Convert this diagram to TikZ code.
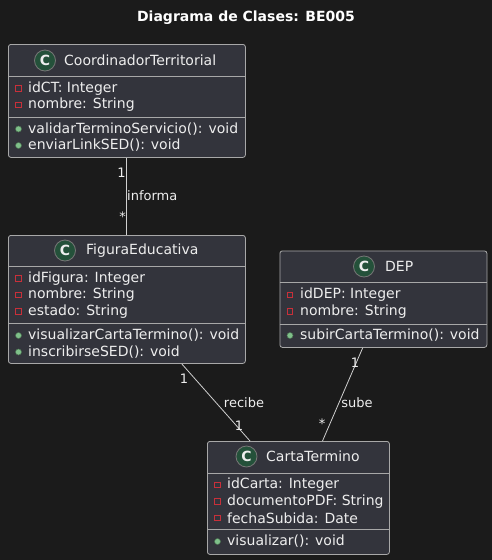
\documentclass[tikz,border=0pt]{standalone}
\usepackage{fontspec}
\setmainfont{DejaVu Sans}
\usetikzlibrary{calc}
\definecolor{bg}{HTML}{1B1B1B}
\definecolor{boxfill}{HTML}{33343C}
\definecolor{boxline}{HTML}{A8A8A8}
\definecolor{txt}{HTML}{EEEEEE}
\definecolor{cgreen}{HTML}{24513A}
\definecolor{privred}{HTML}{C8303A}
\definecolor{pubgreen}{HTML}{7FC08A}
\definecolor{linec}{HTML}{D0D0D0}
\tikzset{
  umlbox/.style={draw=boxline, fill=boxfill, rounded corners=2.5pt, line width=0.8pt, inner sep=0pt, anchor=north west},
  sepline/.style={draw=boxline, line width=0.8pt},
  circc/.style={circle, draw=boxline!70!black, fill=cgreen, line width=0.8pt, minimum size=21pt, inner sep=0pt, text=txt, font=\fontsize{14}{16}\selectfont\bfseries},
  clsname/.style={anchor=west, inner sep=0pt, text=txt, font=\fontsize{14}{16}\selectfont},
  member/.style={anchor=west, inner sep=0pt, text=txt, font=\fontsize{14}{16}\selectfont},
  privicon/.style={draw=privred, line width=0.9pt, minimum size=5.5pt, inner sep=0pt},
  pubicon/.style={circle, draw=pubgreen!60!black, fill=pubgreen, minimum size=6pt, inner sep=0pt, line width=0.5pt},
  assoc/.style={draw=linec, line width=0.8pt},
  mult/.style={text=txt, inner sep=0pt, font=\fontsize{13}{15}\selectfont},
  title/.style={text=white, inner sep=0pt, font=\fontsize{14}{16}\selectfont\bfseries}
}
\begin{document}
\begin{tikzpicture}[x=1pt,y=-1pt]
\fill[bg] (0,0) rectangle (492,560);
\useasboundingbox (0,0) rectangle (492,560);

\node[title] (ttl) at (246,18) {Diagrama de Clases: BE005};

% CoordinadorTerritorial
\node[umlbox, minimum width=237pt, minimum height=113pt] (ct) at (8,44) {};
\draw[sepline] (8,76) -- (245,76);
\draw[sepline] (8,117) -- (245,117);
\node[circc] (ctc) at (45,60.5) {C};
\node[clsname] (ctn) at (64,60.5) {CoordinadorTerritorial};
\node[privicon] (cti1) at (18.5,88.5) {};
\node[member] (cta1) at (28,88.5) {idCT: Integer};
\node[privicon] (cti2) at (18.5,105) {};
\node[member] (cta2) at (28,105) {nombre: String};
\node[pubicon] (ctm1i) at (18.5,129) {};
\node[member] (ctm1) at (28,129) {validarTerminoServicio(): void};
\node[pubicon] (ctm2i) at (18.5,145.5) {};
\node[member] (ctm2) at (28,145.5) {enviarLinkSED(): void};

% FiguraEducativa
\node[umlbox, minimum width=237pt, minimum height=128pt] (fe) at (8,235) {};
\draw[sepline] (8,266) -- (245,266);
\draw[sepline] (8,323) -- (245,323);
\node[circc] (fec) at (65,250.5) {C};
\node[clsname] (fen) at (86,250.5) {FiguraEducativa};
\node[privicon] (fei1) at (18.5,278.5) {};
\node[member] (fea1) at (28,278.5) {idFigura: Integer};
\node[privicon] (fei2) at (18.5,295) {};
\node[member] (fea2) at (28,295) {nombre: String};
\node[privicon] (fei3) at (18.5,311.5) {};
\node[member] (fea3) at (28,311.5) {estado: String};
\node[pubicon] (fem1i) at (18.5,335.5) {};
\node[member] (fem1) at (28,335.5) {visualizarCartaTermino(): void};
\node[pubicon] (fem2i) at (18.5,352) {};
\node[member] (fem2) at (28,352) {inscribirseSED(): void};

% DEP
\node[umlbox, minimum width=207pt, minimum height=96.5pt] (dep) at (279.5,250.5) {};
\draw[sepline] (279.5,282.5) -- (486.5,282.5);
\draw[sepline] (279.5,324) -- (486.5,324);
\node[circc] (depc) at (364,266.5) {C};
\node[clsname] (depn) at (385,266.5) {DEP};
\node[privicon] (depi1) at (290,295) {};
\node[member] (depa1) at (300,295) {idDEP: Integer};
\node[privicon] (depi2) at (290,311.5) {};
\node[member] (depa2) at (300,311.5) {nombre: String};
\node[pubicon] (depm1i) at (290,335.5) {};
\node[member] (depm1) at (300,335.5) {subirCartaTermino(): void};

% CartaTermino
\node[umlbox, minimum width=182pt, minimum height=113pt] (cta) at (207,441) {};
\draw[sepline] (207,473) -- (389,473);
\draw[sepline] (207,529.5) -- (389,529.5);
\node[circc] (ctac) at (246.5,456.5) {C};
\node[clsname] (ctan) at (266,456.5) {CartaTermino};
\node[privicon] (ctai1) at (217.5,485) {};
\node[member] (ctaa1) at (227,485) {idCarta: Integer};
\node[privicon] (ctai2) at (217.5,501.5) {};
\node[member] (ctaa2) at (227,501.5) {documentoPDF: String};
\node[privicon] (ctai3) at (217.5,518) {};
\node[member] (ctaa3) at (227,518) {fechaSubida: Date};
\node[pubicon] (ctam1i) at (217.5,541.5) {};
\node[member] (ctam1) at (227,541.5) {visualizar(): void};

% associations
\draw[assoc] ($(ct.south west)+(118.7,0)$) -- ($(fe.north west)+(118.7,0)$);
\node[mult] (m1) at (121.5,172.5) {1};
\node[mult] (m2) at (122.5,217) {*};
\node[mult, anchor=west] (l1) at (127,196) {informa};

\draw[assoc] ($(fe.south west)+(173.7,0)$) -- ($(cta.north west)+(43,0)$);
\node[mult] (m3) at (184,379) {1};
\node[mult] (l2) at (244,402.5) {recibe};
\node[mult] (m4) at (239,425.5) {1};

\draw[assoc] ($(dep.south west)+(83.2,0)$) -- ($(cta.north west)+(115.5,0)$);
\node[mult] (m5) at (355,363) {1};
\node[mult] (l3) at (357,402.5) {sube};
\node[mult] (m6) at (322,424) {*};
\end{tikzpicture}
\end{document}
